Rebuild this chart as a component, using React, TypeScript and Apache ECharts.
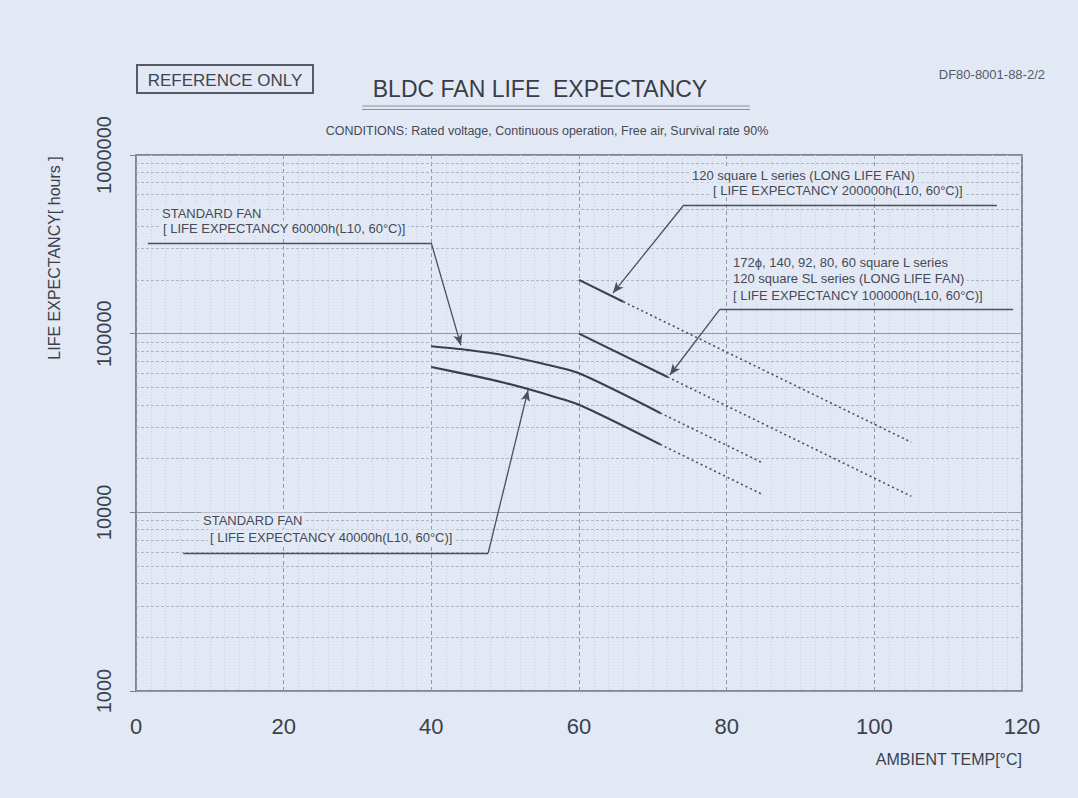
import React, { useEffect, useRef } from "react";
import * as echarts from "echarts";

// ---------- data ----------
const X_MIN = 0;
const X_MAX = 120;
const X_INTERVAL = 20;
const Y_MIN = 1000;
const Y_MAX = 1000000;
const Y_TICK_LABELS = ["1000", "10000", "100000", "1000000"];

// standard fan 40000h (L10, 60°C)
const std40Solid: number[][] = [[40, 65000], [45, 59000], [50, 53000], [55, 46500], [60, 40000], [71, 24000]];
const std40Dotted: number[][] = [[71, 24000], [85, 12500]];
// standard fan 60000h (L10, 60°C)
const std60Solid: number[][] = [[40, 85000], [45, 81000], [50, 75500], [55, 68000], [60, 60000], [71, 36000]];
const std60Dotted: number[][] = [[71, 36000], [85, 18800]];
// long life fan 100000h
const long100Solid: number[][] = [[60, 100000], [72, 57200]];
const long100Dotted: number[][] = [[72, 57200], [105, 12300]];
// long life fan 200000h
const long200Solid: number[][] = [[60, 200000], [66, 151000]];
const long200Dotted: number[][] = [[66, 151000], [105, 24700]];

const minorYLines = [
  2000, 3000, 4000, 5000, 6000, 7000, 8000, 9000,
  20000, 30000, 40000, 50000, 60000, 70000, 80000, 90000,
  200000, 300000, 400000, 500000, 600000, 700000, 800000, 900000,
];

// leader lines: [start, corner, arrow tip] in data units
const leader60: number[][] = [[1.6, 321000], [40, 321000], [44, 86000]];
const leader40: number[][] = [[6.4, 5920], [47.7, 5920], [53.1, 48300]];
const leader200: number[][] = [[116.6, 524800], [74.2, 524800], [64.6, 168700]];
const leader100: number[][] = [[118.8, 137300], [79.1, 137300], [72.3, 58700]];

const TITLE = "BLDC FAN LIFE  EXPECTANCY";
const CONDITIONS = "CONDITIONS: Rated voltage, Continuous operation, Free air, Survival rate 90%";
const DOC_CODE = "DF80-8001-88-2/2";
const X_NAME = "AMBIENT TEMP[°C]";
const Y_NAME = "LIFE EXPECTANCY[ hours ]";

const ann60 = ["STANDARD FAN", "[ LIFE EXPECTANCY 60000h(L10, 60°C)]"];
const ann40 = ["STANDARD FAN", "[ LIFE EXPECTANCY 40000h(L10, 60°C)]"];
const ann200 = ["120 square L series (LONG LIFE FAN)", "[ LIFE EXPECTANCY 200000h(L10, 60°C)]"];
const ann100 = [
  "172ϕ, 140, 92, 80, 60 square L series",
  "120 square SL series (LONG LIFE FAN)",
  "[ LIFE EXPECTANCY 100000h(L10, 60°C)]",
];

// ---------- styles ----------
const BG = "#e2e9f4";
const INK = "#3b404d";
const FONT = "'Liberation Sans', Arial, sans-serif";

function leaderData(pts: number[][]) {
  return [
    [
      { coord: pts[0], symbol: "none" },
      { coord: pts[1], symbol: "none" },
    ],
    [
      { coord: pts[1], symbol: "none" },
      { coord: pts[2], symbol: "arrow" },
    ],
  ];
}

function annText(lines: string[], xs: number[], ys: number[]) {
  return lines.map((t, i) => ({
    type: "text",
    z: 100,
    x: xs[i],
    y: ys[i],
    style: {
      text: t,
      fontSize: 13,
      fontFamily: FONT,
      fill: "#444a57",
      align: "left",
      verticalAlign: "middle",
      backgroundColor: BG,
      padding: [1, 2],
    },
  }));
}

function solidSeries(name: string, data: number[][], smooth: number) {
  return {
    name,
    type: "line",
    data,
    smooth,
    symbol: "none",
    z: 5,
    lineStyle: { color: INK, width: 2.1, type: "solid" },
  };
}
function dottedSeries(name: string, data: number[][]) {
  return {
    name,
    type: "line",
    data,
    symbol: "none",
    z: 5,
    lineStyle: { color: "#4a4f5c", width: 1.6, type: [2, 3] },
  };
}

export default function App() {
  const ref = useRef<HTMLDivElement>(null);

  useEffect(() => {
    if (!ref.current) return;
    const chart = echarts.init(ref.current, undefined, { renderer: "svg" });

    const option: any = {
      animation: false,
      backgroundColor: BG,
      grid: {
        left: 136,
        right: 56,
        top: 155,
        bottom: 107,
        show: true,
        borderColor: "#5f6676",
        borderWidth: 1.5,
        backgroundColor: "transparent",
      },
      xAxis: {
        type: "value",
        min: X_MIN,
        max: X_MAX,
        interval: X_INTERVAL,
        axisLine: { show: false },
        axisTick: { show: false },
        axisLabel: {
          fontSize: 22,
          fontFamily: FONT,
          color: INK,
          margin: 24,
        },
        splitLine: {
          show: true,
          lineStyle: { color: "#8f98a8", width: 1, type: [4, 3] },
        },
        minorTick: { show: false, splitNumber: 10 },
        minorSplitLine: {
          show: true,
          lineStyle: { color: "#c6cedb", width: 1, type: [1, 2] },
        },
      },
      yAxis: {
        type: "log",
        logBase: 10,
        min: Y_MIN,
        max: Y_MAX,
        axisLine: { show: false },
        axisTick: { show: true, length: 6, lineStyle: { color: "#7a8292" } },
        axisLabel: {
          rotate: 90,
          fontSize: 20,
          fontFamily: FONT,
          color: INK,
          margin: 22,
          formatter: (v: number) => {
            const s = String(Math.round(v));
            return Y_TICK_LABELS.includes(s) ? s : "";
          },
        },
        splitLine: {
          show: true,
          lineStyle: { color: "#8e97a7", width: 1, type: "solid" },
        },
      },
      series: [
        {
          name: "minor-grid",
          type: "line",
          data: [],
          symbol: "none",
          silent: true,
          z: 1,
          markLine: {
            silent: true,
            symbol: ["none", "none"],
            label: { show: false },
            lineStyle: { color: "#aeb7c6", width: 1, type: [3, 2] },
            data: minorYLines.map((v) => ({ yAxis: v })),
          },
        },
        solidSeries("Standard fan 40000h", std40Solid, 0.25),
        dottedSeries("Standard fan 40000h (extrapolated)", std40Dotted),
        solidSeries("Standard fan 60000h", std60Solid, 0.25),
        dottedSeries("Standard fan 60000h (extrapolated)", std60Dotted),
        solidSeries("Long life fan 100000h", long100Solid, 0),
        dottedSeries("Long life fan 100000h (extrapolated)", long100Dotted),
        solidSeries("Long life fan 200000h", long200Solid, 0),
        dottedSeries("Long life fan 200000h (extrapolated)", long200Dotted),
        {
          name: "leaders",
          type: "line",
          data: [],
          symbol: "none",
          silent: true,
          z: 6,
          markLine: {
            silent: true,
            symbol: ["none", "arrow"],
            symbolSize: [7, 11],
            label: { show: false },
            lineStyle: { color: "#4a505e", width: 1.3, type: "solid" },
            data: [
              ...leaderData(leader60),
              ...leaderData(leader40),
              ...leaderData(leader200),
              ...leaderData(leader100),
            ],
          },
        },
      ],
      graphic: [
        {
          type: "rect",
          z: 100,
          shape: { x: 137, y: 65, width: 176, height: 28 },
          style: { fill: "none", stroke: "#555b68", lineWidth: 2 },
        },
        {
          type: "text",
          z: 100,
          x: 225,
          y: 80,
          style: {
            text: "REFERENCE ONLY",
            fontSize: 17,
            fontFamily: FONT,
            fill: "#3f4450",
            align: "center",
            verticalAlign: "middle",
          },
        },
        {
          type: "text",
          z: 100,
          x: 540,
          y: 89,
          style: {
            text: TITLE,
            fontSize: 23,
            fontFamily: FONT,
            fill: "#383d49",
            align: "center",
            verticalAlign: "middle",
          },
        },
        {
          type: "line",
          z: 100,
          shape: { x1: 362, y1: 106, x2: 750, y2: 106 },
          style: { stroke: "#8a909c", lineWidth: 1 },
        },
        {
          type: "line",
          z: 100,
          shape: { x1: 362, y1: 109.5, x2: 750, y2: 109.5 },
          style: { stroke: "#8a909c", lineWidth: 1 },
        },
        {
          type: "text",
          z: 100,
          x: 547,
          y: 131,
          style: {
            text: CONDITIONS,
            fontSize: 12.5,
            fontFamily: FONT,
            fill: "#444a57",
            align: "center",
            verticalAlign: "middle",
          },
        },
        {
          type: "text",
          z: 100,
          x: 1045,
          y: 74,
          style: {
            text: DOC_CODE,
            fontSize: 13,
            fontFamily: FONT,
            fill: "#555b68",
            align: "right",
            verticalAlign: "middle",
          },
        },
        {
          type: "text",
          z: 100,
          x: 54,
          y: 258,
          rotation: Math.PI / 2,
          style: {
            text: Y_NAME,
            fontSize: 16,
            fontFamily: FONT,
            fill: INK,
            align: "center",
            verticalAlign: "middle",
          },
        },
        {
          type: "text",
          z: 100,
          x: 1022,
          y: 759,
          style: {
            text: X_NAME,
            fontSize: 16,
            fontFamily: FONT,
            fill: INK,
            align: "right",
            verticalAlign: "middle",
          },
        },
        ...annText(ann60, [160, 161], [213, 228]),
        ...annText(ann40, [201, 208], [520, 537]),
        ...annText(ann200, [690, 711], [175, 190]),
        ...annText(ann100, [731, 731, 731], [262, 278, 295]),
      ],
    };

    chart.setOption(option);
    return () => {
      chart.dispose();
    };
  }, []);

  return (
    <div
      ref={ref}
      style={{
        position: "absolute",
        left: 0,
        top: 0,
        width: 1078,
        height: 798,
        background: BG,
      }}
    />
  );
}
